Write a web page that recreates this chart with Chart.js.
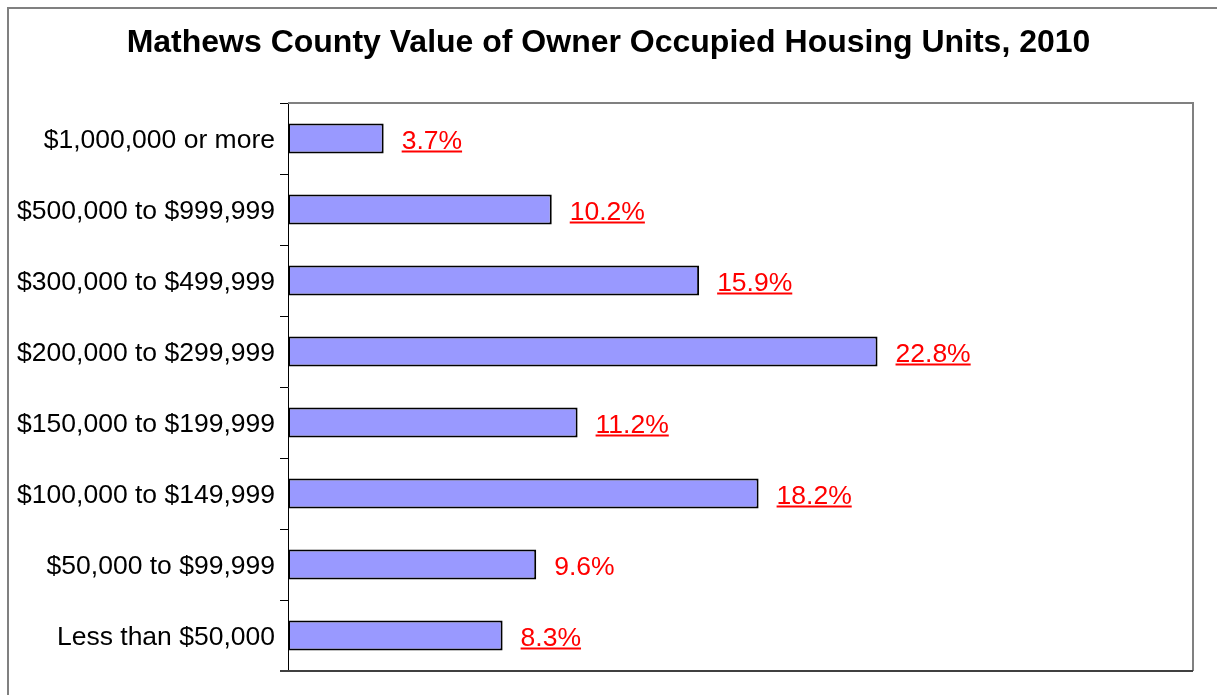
<!DOCTYPE html>
<html>
<head>
<meta charset="utf-8">
<title>Mathews County Value of Owner Occupied Housing Units, 2010</title>
<script src="https://cdn.jsdelivr.net/npm/chart.js@4"></script>
<style>
  html, body { margin: 0; padding: 0; background: #ffffff; }
  canvas { display: block; }
</style>
</head>
<body>
<canvas id="chart" width="1217" height="695"></canvas>
<script>
// Value ranges, listed top to bottom as they appear on the chart
const categories = [
  "$1,000,000 or more",
  "$500,000 to $999,999",
  "$300,000 to $499,999",
  "$200,000 to $299,999",
  "$150,000 to $199,999",
  "$100,000 to $149,999",
  "$50,000 to $99,999",
  "Less than $50,000"
];

// Share of owner occupied units, percent
const shares = [3.7, 10.2, 15.9, 22.8, 11.2, 18.2, 9.6, 8.3];

// Value labels shown beside each bar
const shareLabels = ["3.7%", "10.2%", "15.9%", "22.8%", "11.2%", "18.2%", "9.6%", "8.3%"];

const FONT = '"Liberation Sans", Arial, sans-serif';

// Outer chart frame and plot-area frame
const framePlugin = {
  id: 'frames',
  beforeDraw(chart) {
    const ctx = chart.ctx;
    ctx.save();
    ctx.fillStyle = '#ffffff';
    ctx.fillRect(0, 0, chart.width, chart.height);
    ctx.strokeStyle = '#808080';
    ctx.lineWidth = 2;
    ctx.beginPath();
    ctx.moveTo(8, chart.height + 5);
    ctx.lineTo(8, 8);
    ctx.lineTo(chart.width + 5, 8);
    ctx.stroke();
    ctx.restore();
  },
  beforeDatasetsDraw(chart) {
    const { ctx, chartArea: a } = chart;
    ctx.save();
    ctx.lineWidth = 2;
    ctx.strokeStyle = '#808080';
    ctx.beginPath();
    ctx.moveTo(a.left, a.top);
    ctx.lineTo(a.right, a.top);
    ctx.lineTo(a.right, a.bottom);
    ctx.stroke();
    ctx.strokeStyle = '#404040';
    ctx.beginPath();
    ctx.moveTo(a.left - 8, a.bottom);
    ctx.lineTo(a.right, a.bottom);
    ctx.stroke();
    ctx.restore();
  }
};

// Red percentage labels to the right of each bar
const valueLabelPlugin = {
  id: 'valueLabels',
  afterDatasetsDraw(chart) {
    const ctx = chart.ctx;
    const meta = chart.getDatasetMeta(0);
    ctx.save();
    ctx.font = '26.5px ' + FONT;
    ctx.fillStyle = '#ff0000';
    ctx.strokeStyle = '#ff0000';
    ctx.textAlign = 'left';
    ctx.textBaseline = 'alphabetic';
    ctx.lineWidth = 2;
    meta.data.forEach((bar, i) => {
      const text = shareLabels[i];
      const x = bar.x + 18;
      const baseline = bar.y + 10;
      ctx.fillText(text, x, baseline);
      if (text !== '9.6%') {
        const w = ctx.measureText(text).width;
        ctx.beginPath();
        ctx.moveTo(x, baseline + 3);
        ctx.lineTo(x + w, baseline + 3);
        ctx.stroke();
      }
    });
    ctx.restore();
  }
};

new Chart(document.getElementById('chart'), {
  type: 'bar',
  data: {
    labels: categories,
    datasets: [{
      data: shares,
      backgroundColor: '#9999ff',
      borderColor: '#000000',
      borderWidth: 2,
      borderSkipped: false,
      categoryPercentage: 1,
      barPercentage: 0.42
    }]
  },
  options: {
    indexAxis: 'y',
    responsive: false,
    devicePixelRatio: 1,
    animation: false,
    layout: { padding: { top: 24, left: 0, right: 0, bottom: 24 } },
    plugins: {
      legend: { display: false },
      tooltip: { enabled: false },
      title: {
        display: true,
        text: 'Mathews County Value of Owner Occupied Housing Units, 2010',
        color: '#000000',
        font: { family: FONT, size: 32, weight: 'bold' },
        padding: { top: 0, bottom: 40.6 }
      }
    },
    scales: {
      x: {
        display: false,
        min: 0,
        max: 35
      },
      y: {
        afterFit(scale) { scale.width = 288; },
        border: { display: true, color: '#000000', width: 1 },
        grid: {
          display: true,
          offset: true,
          drawOnChartArea: false,
          drawTicks: true,
          tickLength: 8,
          color: '#000000'
        },
        ticks: {
          color: '#000000',
          padding: 5,
          labelOffset: 2,
          font: { family: FONT, size: 26.5 }
        }
      },
      // Empty right-hand margin strip beside the plot area
      yMargin: {
        type: 'category',
        position: 'right',
        afterFit(scale) { scale.width = 24; },
        border: { display: false },
        grid: { display: false },
        ticks: { display: false }
      }
    }
  },
  plugins: [framePlugin, valueLabelPlugin]
});
</script>
</body>
</html>
